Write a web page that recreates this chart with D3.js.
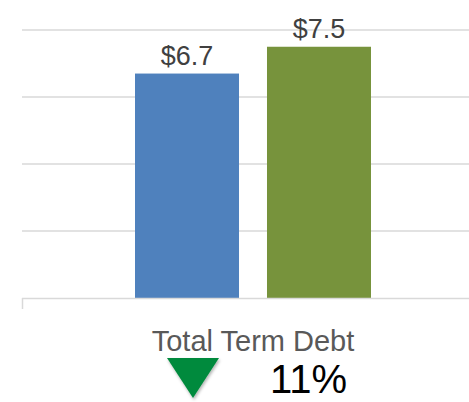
<!DOCTYPE html>
<html>
<head>
<meta charset="utf-8">
<script src="https://cdn.jsdelivr.net/npm/d3@7"></script>
<style>
  html, body { margin: 0; padding: 0; background: #fff; }
  svg { display: block; }
</style>
</head>
<body>
<div id="vizcontainer"></div>
<script>
const series = ['Prior', 'Current'];
const values = [6.7, 7.5];
const colors = ['#4f81bd', '#77933c'];
const yTicks = [0, 2, 4, 6, 8];
const category = 'Total Term Debt';
const change = '11%';

const
  width = 469,
  height = 402;

let viz = d3.select('#vizcontainer')
  .append('svg')
  .attr('width', width)
  .attr('height', height);

const y = d3.scaleLinear()
  .domain([0, 8])
  .range([298, 30]);

const x = d3.scaleBand()
  .domain(series)
  .range([135, 371])
  .paddingInner(0.212)
  .paddingOuter(0);

// gridlines
viz.append('g')
  .selectAll('line')
  .data(yTicks.filter(d => d > 0))
  .join('line')
  .attr('x1', 22)
  .attr('x2', width)
  .attr('y1', d => Math.round(y(d)))
  .attr('y2', d => Math.round(y(d)))
  .attr('stroke', '#d9d9d9')
  .attr('stroke-width', 1.5);

// bars
viz.append('g')
  .selectAll('rect')
  .data(values)
  .join('rect')
  .attr('x', (d, i) => x(series[i]))
  .attr('y', d => y(d))
  .attr('width', x.bandwidth())
  .attr('height', d => y(0) - y(d))
  .attr('fill', (d, i) => colors[i]);

// axis line + left tick
viz.append('line')
  .attr('x1', 22).attr('x2', width)
  .attr('y1', y(0) + 0.5).attr('y2', y(0) + 0.5)
  .attr('stroke', '#d9d9d9').attr('stroke-width', 1.5);
viz.append('line')
  .attr('x1', 22.5).attr('x2', 22.5)
  .attr('y1', y(0)).attr('y2', y(0) + 11)
  .attr('stroke', '#d9d9d9').attr('stroke-width', 1.5);

// value labels
viz.append('g')
  .selectAll('text')
  .data(values)
  .join('text')
  .attr('x', (d, i) => x(series[i]) + x.bandwidth() / 2)
  .attr('y', d => y(d) - 9)
  .attr('text-anchor', 'middle')
  .attr('font-family', 'Liberation Sans, Arial, sans-serif')
  .attr('font-size', 27)
  .attr('fill', '#404040')
  .text(d => '$' + d.toFixed(1));

// category label
viz.append('text')
  .attr('x', 253)
  .attr('y', 351)
  .attr('text-anchor', 'middle')
  .attr('font-family', 'Liberation Sans, Arial, sans-serif')
  .attr('font-size', 29)
  .attr('fill', '#595959')
  .text(category);

// down triangle with shadow
const defs = viz.append('defs');
const f = defs.append('filter').attr('id', 'shadow')
  .attr('x', '-30%').attr('y', '-30%').attr('width', '160%').attr('height', '160%');
f.append('feDropShadow')
  .attr('dx', 1).attr('dy', 2).attr('stdDeviation', 1.5)
  .attr('flood-color', '#000').attr('flood-opacity', 0.3);

viz.append('path')
  .attr('d', d3.line()([[167, 358], [219, 358], [193, 398]]) + 'Z')
  .attr('fill', '#008a3e')
  .attr('filter', 'url(#shadow)');

viz.append('text')
  .attr('x', 270)
  .attr('y', 393)
  .attr('font-family', 'Liberation Sans, Arial, sans-serif')
  .attr('font-size', 40)
  .attr('fill', '#000')
  .text(change);
</script>
</body>
</html>
